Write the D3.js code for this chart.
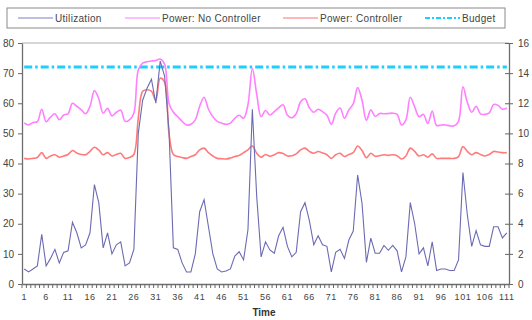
<!DOCTYPE html>
<html>
<head>
<meta charset="utf-8">
<script src="https://cdn.jsdelivr.net/npm/d3@7"></script>
<style>
  body { margin: 0; background: #fff; }
  svg { display: block; font-family: "Liberation Sans", Arial, sans-serif; }
</style>
</head>
<body>
<svg id="chart" width="532" height="320"></svg>
<script>
// time steps 1..111
const times = d3.range(1, 112);

// utilization (%), left axis
const utilization = [
  5, 4, 5, 6, 16.5, 6, 8.5, 11.5, 7, 10.5,
  11, 20.5, 17, 12, 13, 17, 33, 27, 12, 17,
  10, 13, 14, 6, 7, 11.5, 50, 61, 65, 68,
  60, 74, 69, 51, 12, 11.5, 7, 4, 4, 10,
  24, 28, 19, 10, 5, 4, 4.3, 5, 9.3, 10.7,
  8, 18, 58, 29, 9, 14, 11.3, 10.2, 16, 18.8,
  12.5, 9, 10.5, 24, 27, 21, 13, 16, 13, 12.5,
  4, 10.5, 11.5, 8.5, 14.6, 17.6, 36.2, 26.8, 7.2, 15.2,
  10.2, 10.2, 12.8, 11.2, 12.8, 11, 4, 9, 27, 20,
  10, 12, 6, 14, 4.5, 5, 5, 4.5, 4.5, 8,
  37, 23, 12.5, 17.7, 13, 12.5, 12.5, 19, 19, 15.3,
  17
];

// power without controller, right axis
const powerNoCtrl = [
  10.7, 10.56, 10.72, 10.78, 11.6, 10.78, 11.08, 11.3, 10.9, 11.22,
  11.3, 12.0, 11.8, 11.56, 11.3, 11.8, 12.84, 12.3, 11.34, 11.66,
  11.16, 11.4, 11.54, 10.8, 10.9, 11.34, 14.2, 14.66, 14.76, 14.8,
  14.84, 14.94, 14.6, 12.0, 11.4, 11.1, 10.8, 10.56, 10.6, 10.9,
  11.8, 12.4, 11.6, 11.1, 10.8, 10.68, 10.6, 10.68, 11.0, 11.2,
  11.0, 11.9, 14.3, 12.6, 11.1, 11.52, 11.22, 11.44, 11.7, 11.9,
  11.2, 11.04, 11.3, 12.1, 12.3, 11.7, 11.4, 11.6, 11.44, 11.2,
  10.6, 11.34, 11.68, 11.0, 11.56, 11.96, 13.04, 12.2, 10.86, 11.56,
  11.12, 11.32, 11.3, 11.32, 11.34, 11.26, 10.56, 10.9, 12.4, 11.76,
  11.1, 11.26, 10.66, 11.48, 10.52, 10.56, 10.56, 10.5, 10.5, 10.8,
  13.1, 12.06, 11.4, 11.8, 11.3, 11.26, 11.36, 11.92, 11.86, 11.6,
  11.68
];

// power with controller, right axis
const powerCtrl = [
  8.34, 8.3, 8.34, 8.4, 8.72, 8.34, 8.5, 8.58, 8.42, 8.5,
  8.6, 8.86, 8.7, 8.6, 8.58, 8.8, 9.08, 8.9, 8.58, 8.72,
  8.5, 8.6, 8.68, 8.34, 8.4, 8.6, 11.0, 12.8, 12.9, 12.8,
  12.2, 13.66, 13.4, 10.0, 8.6, 8.46, 8.4, 8.34, 8.46, 8.58,
  8.9, 9.02, 8.72, 8.5, 8.34, 8.32, 8.3, 8.36, 8.46, 8.54,
  8.72, 8.9, 9.16, 8.68, 8.42, 8.6, 8.48, 8.58, 8.72, 8.66,
  8.5, 8.52, 8.64, 8.9, 9.02, 8.8, 8.68, 8.8, 8.7, 8.58,
  8.34, 8.58, 8.68, 8.46, 8.6, 8.72, 9.16, 8.86, 8.38, 8.68,
  8.48, 8.52, 8.58, 8.54, 8.58, 8.52, 8.3, 8.5, 9.02, 8.8,
  8.5, 8.58, 8.42, 8.64, 8.34, 8.34, 8.34, 8.34, 8.34, 8.46,
  9.12, 8.8, 8.58, 8.72, 8.6, 8.5, 8.6, 8.8, 8.76, 8.72,
  8.72
];

const budget = 14.4;

const leftTicks = [0, 10, 20, 30, 40, 50, 60, 70, 80];
const rightTicks = [0, 2, 4, 6, 8, 10, 12, 14, 16];
const timeLabels = times.filter(t => (t - 1) % 5 === 0);

const series = [
  { name: 'Utilization', color: '#6b6bb3', legendColor: '#a9a9d6', width: 1.1, dash: null },
  { name: 'Power: No Controller', color: '#ff80ff', legendColor: '#ffaaff', width: 1.6, dash: null },
  { name: 'Power: Controller', color: '#ff7b7b', legendColor: '#ffa0a0', width: 1.6, dash: null },
  { name: 'Budget', color: '#1ccfff', legendColor: '#1ccfff', width: 3, dash: '8,3,2.5,3' }
];

const svg = d3.select('#chart');
const plot = { left: 22, right: 509, top: 43, bottom: 284 };

const x = d3.scaleBand()
  .domain(times)
  .range([plot.left, plot.right]);

const xc = t => x(t) + x.bandwidth() / 2;

const yLeft = d3.scaleLinear()
  .domain([0, 80])
  .range([plot.bottom, plot.top]);

const yRight = d3.scaleLinear()
  .domain([0, 16])
  .range([plot.bottom, plot.top]);

// plot area top border
svg.append('line')
  .attr('x1', plot.left).attr('x2', plot.right)
  .attr('y1', plot.top).attr('y2', plot.top)
  .style('stroke', '#c8c8c8')
  .style('stroke-width', 1.5);

// left axis
const gLeft = svg.append('g')
  .attr('transform', `translate(${plot.left},0)`)
  .call(d3.axisLeft(yLeft).tickValues(leftTicks).tickSize(4).tickSizeOuter(0).tickPadding(4));

// right axis, ticks cross the line
const gRight = svg.append('g')
  .attr('transform', `translate(${plot.right},0)`)
  .call(d3.axisRight(yRight).tickValues(rightTicks).tickSize(4).tickSizeOuter(0).tickPadding(5));
gRight.selectAll('.tick line').attr('x1', -4);

// bottom axis: labels every 5 steps, ticks at every category boundary
const gBottom = svg.append('g')
  .attr('transform', `translate(0,${plot.bottom})`)
  .call(d3.axisBottom(x).tickValues(timeLabels).tickSize(0).tickSizeOuter(0).tickPadding(10));

gBottom.selectAll('.tick.boundary')
  .data(times.map(t => x(t)).concat([plot.right]))
  .enter()
  .append('line')
  .classed('boundary', true)
  .attr('x1', d => d).attr('x2', d => d)
  .attr('y1', 0).attr('y2', 4)
  .style('stroke', '#666');

[gLeft, gRight, gBottom].forEach(g => {
  g.select('.domain').style('stroke', '#6e6e6e').style('stroke-width', 1.3);
  g.selectAll('.tick line').style('stroke', '#666');
  g.selectAll('text')
    .style('font-size', '10px')
    .style('fill', '#444')
    .style('font-family', '"Liberation Sans", Arial, sans-serif');
});
gBottom.selectAll('text').style('font-size', '9px').style('letter-spacing', '0.6px');

// axis title
svg.append('text')
  .attr('x', 264)
  .attr('y', 316)
  .attr('text-anchor', 'middle')
  .style('font-size', '10px')
  .style('font-weight', 'bold')
  .style('fill', '#333')
  .text('Time');

// lines: power curves are smoothed, utilization is straight segments
const lineLeft = d3.line()
  .x((d, i) => xc(times[i]))
  .y(d => yLeft(d));

const lineRight = d3.line()
  .x((d, i) => xc(times[i]))
  .y(d => yRight(d))
  .curve(d3.curveCatmullRom.alpha(0.5));

const lines = svg.append('g');

lines.append('path')
  .attr('d', lineRight(times.map(() => budget)))
  .style('fill', 'none')
  .style('stroke', series[3].color)
  .style('stroke-width', series[3].width)
  .style('stroke-dasharray', series[3].dash);

lines.append('path')
  .attr('d', lineRight(powerNoCtrl))
  .style('fill', 'none')
  .style('stroke', series[1].color)
  .style('stroke-width', series[1].width);

lines.append('path')
  .attr('d', lineRight(powerCtrl))
  .style('fill', 'none')
  .style('stroke', series[2].color)
  .style('stroke-width', series[2].width);

lines.append('path')
  .attr('d', lineLeft(utilization))
  .style('fill', 'none')
  .style('stroke', series[0].color)
  .style('stroke-width', series[0].width);

// legend
const legend = svg.append('g');

legend.append('rect')
  .attr('x', 7).attr('y', 8)
  .attr('width', 498).attr('height', 20)
  .style('fill', '#fff')
  .style('stroke', '#8a8a8a')
  .style('stroke-width', 1);

const legendX = [18, 125, 283, 425];

const item = legend.selectAll('g.item')
  .data(series)
  .enter()
  .append('g')
  .classed('item', true)
  .attr('transform', (d, i) => `translate(${legendX[i]},18)`);

item.append('line')
  .attr('x1', 0).attr('x2', 35)
  .attr('y1', 0).attr('y2', 0)
  .style('stroke', d => d.legendColor)
  .style('stroke-width', d => d.name === 'Budget' ? 2 : 1.5)
  .style('stroke-dasharray', d => d.name === 'Budget' ? '5,2,2,2' : null);

item.append('text')
  .attr('x', 37)
  .attr('y', 3.5)
  .style('font-size', '10px')
  .style('fill', '#444')
  .style('letter-spacing', '0.3px')
  .text(d => d.name);
</script>
</body>
</html>
